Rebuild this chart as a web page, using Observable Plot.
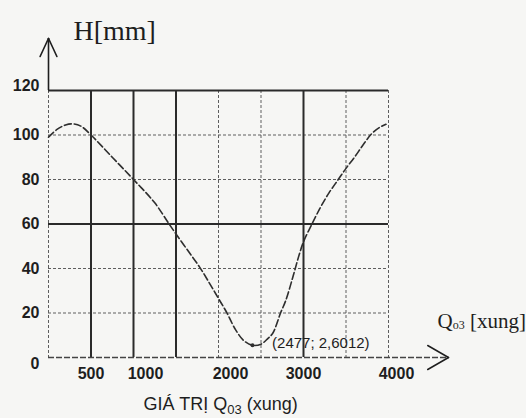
<!DOCTYPE html>
<html>
<head>
<meta charset="utf-8">
<script src="https://cdn.jsdelivr.net/npm/d3@7"></script>
<script src="https://cdn.jsdelivr.net/npm/@observablehq/plot@0.6"></script>
<style>
  html, body { margin: 0; padding: 0; background: #f6f6f4; }
  #chart svg { display: block; }
</style>
</head>
<body>
<div id="chart"></div>
<script>
// ---- data ----
const curveQ = [0, 100, 200, 280, 380, 500, 750, 1000, 1250, 1410, 1500, 1650, 1780, 1900, 2000, 2100, 2200, 2300, 2400, 2500, 2580, 2640, 2730, 2790, 2870, 2940, 3000, 3100, 3200, 3300, 3400, 3500, 3600, 3700, 3800, 3900, 3970];
const curveH = [99, 102.5, 104.5, 105, 104, 100, 90, 80, 69.5, 60.5, 55.5, 47.5, 40.5, 33, 26.5, 20, 12.5, 7.5, 5.5, 6, 8.5, 11, 20, 25.5, 35.5, 45, 52, 60, 67.5, 74, 79.5, 85, 90, 95.5, 100.5, 103.5, 104.8];

const xGridSolid = [500, 1000, 1500, 3000];
const xGridDotted = [0, 2000, 2500, 3500, 4000];
const yGridSolid = [120, 60];
const yGridDotted = [20, 40, 80, 100];

const xTickLabels = [500, 1000, 2000, 3000, 4000];
const yTickLabels = [0, 20, 40, 60, 80, 100, 120];

const annotQ = 2477;
const annotH = 2.6012;

const yTitle = "H[mm]";
const xTitleParts = ["GIÁ TRỊ Q", "03", " (xung)"];
const xUnitParts = ["Q", "o3", " [xung]"];

const xDomain = [0, 4000];
const yDomain = [0, 120];
const xArrowEnd = 4706;   // tip of the horizontal axis arrow (in Q units)
const yArrowTop = 143.4;  // tip of the vertical axis arrow (in H units)

// ---- build ----
const curve = curveQ.map((q, i) => ({q, h: curveH[i]}));
const minPoint = curve.reduce((a, b) => (b.h < a.h ? b : a));
const annotText = `(${annotQ}; ${String(annotH).replace(".", ",")})`;
const xTitle = xTitleParts.join("");
const xUnit = xUnitParts.join("");

const lineShape = {draw(ctx, l) { ctx.moveTo(0, 0); ctx.lineTo(0, -l); }};
const ink = "#1e1e1e";
const sans = "Liberation Sans, Arial, sans-serif";
const serif = "Liberation Serif, Times New Roman, serif";
const fmt = d => String(d);
const tickOpts = {tickSize: 0, fontSize: 16, fontWeight: "bold", tickFormat: fmt, label: null};

const chart = Plot.plot({
  width: 526,
  height: 418,
  marginLeft: 48,
  marginRight: 138,
  marginTop: 90,
  marginBottom: 61,
  x: {domain: xDomain},
  y: {domain: yDomain},
  style: {background: "#f6f6f4", color: ink, fontFamily: sans},
  marks: [
    // dotted grid
    Plot.ruleX(xGridDotted, {stroke: "#5e5e5e", strokeWidth: 1, strokeDasharray: "3,2"}),
    Plot.ruleY(yGridDotted, {stroke: "#5e5e5e", strokeWidth: 1, strokeDasharray: "3,2"}),
    // solid grid
    Plot.ruleX(xGridSolid, {stroke: "#2a2a2a", strokeWidth: 2}),
    Plot.ruleY(yGridSolid, {stroke: "#2a2a2a", strokeWidth: 2}),
    // horizontal axis (dashed) with arrow
    Plot.ruleY([0], {x1: xDomain[0], x2: xArrowEnd, stroke: "#444", strokeWidth: 1.5, strokeDasharray: "6,2"}),
    Plot.vector([xArrowEnd, xArrowEnd], {x: d => d, y: 0, length: 24, rotate: (d, i) => (i ? 240 : 300), anchor: "start", shape: lineShape, stroke: ink, strokeWidth: 1.5}),
    // vertical axis arrow
    Plot.ruleX([0], {y1: yDomain[1], y2: yArrowTop, stroke: ink, strokeWidth: 1.6}),
    Plot.vector([yArrowTop, yArrowTop], {x: 0, y: d => d, length: 20, rotate: (d, i) => (i ? 155 : 205), anchor: "start", shape: lineShape, stroke: ink, strokeWidth: 1.5}),
    // curve
    Plot.line(curve, {x: "q", y: "h", curve: "catmull-rom", stroke: "#2e2e2e", strokeWidth: 1.6, strokeDasharray: "7,3"}),
    Plot.dot([minPoint], {x: "q", y: "h", r: 2, fill: "#2e2e2e", stroke: "none"}),
    Plot.text([annotText], {x: annotQ, y: annotH, text: d => d, textAnchor: "start", dx: 13, dy: -9, fontSize: 15, fill: ink}),
    // tick labels
    Plot.axisY(yTickLabels.filter(d => d > 0 && d < 120), {...tickOpts, tickPadding: 9, textAnchor: "end"}),
    Plot.axisY([0], {...tickOpts, tickPadding: 9, textAnchor: "end", dy: 6}),
    Plot.axisY([120], {...tickOpts, tickPadding: 9, textAnchor: "end", dy: -5}),
    Plot.axisX(xTickLabels.filter(d => d === 500 || d === 3000), {...tickOpts, tickPadding: 10}),
    Plot.axisX(xTickLabels.filter(d => d === 1000 || d === 2000), {...tickOpts, tickPadding: 10, dx: 12}),
    Plot.axisX(xTickLabels.filter(d => d === 4000), {...tickOpts, tickPadding: 10, dx: 8}),
    // titles
    Plot.text([yTitle], {frameAnchor: "top-left", text: d => d, textAnchor: "start", lineAnchor: "bottom", dx: 25, dy: -51, fontSize: 28, fontFamily: serif, fill: ink}),
    Plot.text([xTitle], {frameAnchor: "bottom-left", text: d => d, textAnchor: "start", lineAnchor: "bottom", dx: 95, dy: 52, fontSize: 18, fill: ink}),
    Plot.text([xUnit], {frameAnchor: "bottom-right", text: d => d, textAnchor: "start", lineAnchor: "bottom", dx: 49, dy: -30, fontSize: 21, fontFamily: serif, fill: ink})
  ]
});

// subscripts
d3.select(chart).selectAll("text").each(function () {
  const sel = d3.select(this);
  const t = this.textContent;
  if (t === xTitle) {
    sel.text(null);
    sel.append("tspan").text(xTitleParts[0]);
    sel.append("tspan").attr("font-size", 13).attr("dy", 4).text(xTitleParts[1]);
    sel.append("tspan").attr("dy", -4).text(xTitleParts[2]);
  } else if (t === xUnit) {
    sel.text(null);
    sel.append("tspan").text(xUnitParts[0]);
    sel.append("tspan").attr("font-size", 12).attr("dy", 1).text(xUnitParts[1]);
    sel.append("tspan").attr("dy", -1).text(xUnitParts[2]);
  }
});

document.getElementById("chart").append(chart);
</script>
</body>
</html>
